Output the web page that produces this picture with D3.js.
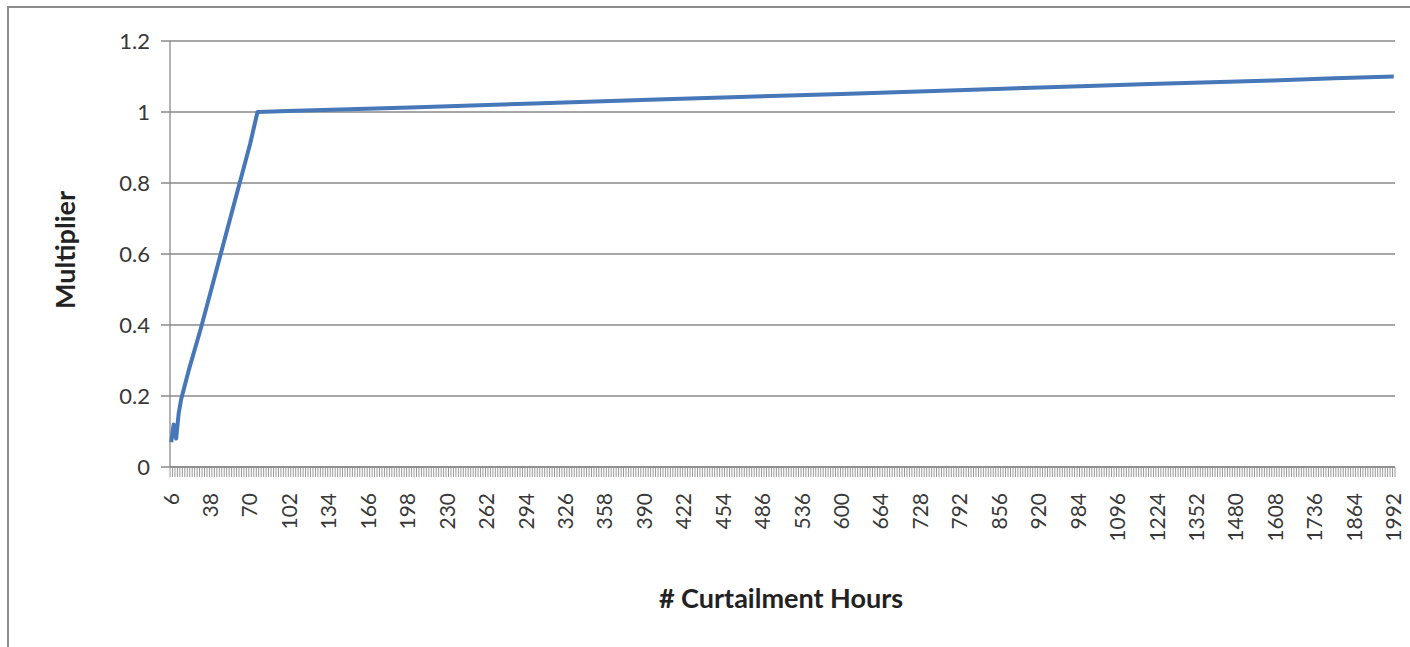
<!DOCTYPE html>
<html>
<head>
<meta charset="utf-8">
<script src="https://cdn.jsdelivr.net/npm/d3@7"></script>
<style>
  body { margin: 0; background: #fff; }
  text { font-family: Lato, "Open Sans", sans-serif; fill: #383838; }
</style>
</head>
<body>
<svg id="chart" width="1410" height="647"></svg>
<script>
// category axis: hours, in three runs with different spacing
const segStart = [6, 504, 1008];
const segEnd = [500, 1000, 1992];
const segStep = [2, 4, 8];

// multiplier at a few hours
const pointHours = [6, 8, 10, 12, 14, 20, 30, 40, 50, 60, 70, 76, 100, 200, 300, 400, 500, 600, 800, 1000, 1200, 1400, 1600, 1800, 1992];
const multiplier = [0.07, 0.12, 0.08, 0.15, 0.19, 0.27, 0.39, 0.52, 0.65, 0.78, 0.91, 1.0, 1.003, 1.013, 1.024, 1.035, 1.046, 1.051, 1.062, 1.073, 1.079, 1.084, 1.089, 1.095, 1.1];

const yTicks = [0, 0.2, 0.4, 0.6, 0.8, 1, 1.2];
const labelEvery = 16;

const categories = [];
segStart.forEach((s, k) => {
    for (let h = s; h <= segEnd[k]; h += segStep[k]) categories.push(h);
});

const svg = d3.select("#chart");
const plot = { left: 170, right: 1395, top: 41, bottom: 467 };

// outer chart border (right and bottom edges fall outside the picture)
svg.append("rect")
    .attr("x", 8).attr("y", 7)
    .attr("width", 1420).attr("height", 660)
    .attr("fill", "#fff")
    .attr("stroke", "#8c8c8c")
    .attr("stroke-width", 2);

const x = d3.scaleBand()
    .domain(categories)
    .range([plot.left, plot.right])
    .paddingInner(0).paddingOuter(0);
const xc = h => x(h) + x.bandwidth() / 2;

const y = d3.scaleLinear()
    .domain([0, 1.2])
    .range([plot.bottom, plot.top]);

// gridlines + y labels
const yg = svg.append("g").attr("class", "y-axis");
yg.selectAll("line.grid")
    .data(yTicks).enter()
    .append("line")
    .attr("class", "grid")
    .attr("x1", plot.left - 9).attr("x2", plot.right)
    .attr("y1", d => y(d)).attr("y2", d => y(d))
    .attr("stroke", "#8a8a8a")
    .attr("stroke-width", 1.3);

yg.selectAll("text")
    .data(yTicks).enter()
    .append("text")
    .attr("x", plot.left - 20)
    .attr("y", d => y(d))
    .attr("dy", "0.35em")
    .attr("text-anchor", "end")
    .style("font-size", "22px")
    .text(d => d3.format("~g")(d));

yg.append("line")
    .attr("x1", plot.left).attr("x2", plot.left)
    .attr("y1", plot.top).attr("y2", plot.bottom)
    .attr("stroke", "#8a8a8a")
    .attr("stroke-width", 1.3);

// category ticks, one per band edge
const xg = svg.append("g").attr("class", "x-axis");
const edges = categories.map(c => x(c)).concat([plot.right]);
xg.selectAll("line.tick")
    .data(edges).enter()
    .append("line")
    .attr("class", "tick")
    .attr("x1", d => d).attr("x2", d => d)
    .attr("y1", plot.bottom).attr("y2", plot.bottom + 10)
    .attr("stroke", "#9a9a9a")
    .attr("stroke-width", 1);

xg.append("line")
    .attr("x1", plot.left).attr("x2", plot.right)
    .attr("y1", plot.bottom).attr("y2", plot.bottom)
    .attr("stroke", "#8a8a8a")
    .attr("stroke-width", 1.3);

xg.selectAll("text")
    .data(categories.filter((c, i) => i % labelEvery === 0)).enter()
    .append("text")
    .attr("transform", d => `translate(${xc(d)},${plot.bottom + 26}) rotate(-90)`)
    .attr("dy", "0.35em")
    .attr("text-anchor", "end")
    .style("font-size", "21px")
    .text(d => d);

// series
const line = d3.line()
    .x(d => xc(d))
    .y((d, i) => y(multiplier[i]));

svg.append("path")
    .datum(pointHours)
    .attr("d", line)
    .attr("fill", "none")
    .attr("stroke", "#4677b8")
    .attr("stroke-width", 4)
    .attr("stroke-linejoin", "round");

// axis titles
svg.append("text")
    .attr("x", 781).attr("y", 599)
    .attr("dy", "0.35em")
    .attr("text-anchor", "middle")
    .style("font-size", "27px")
    .style("font-weight", "bold")
    .style("fill", "#222")
    .text("# Curtailment Hours");

svg.append("text")
    .attr("transform", "translate(66,250) rotate(-90)")
    .attr("dy", "0.35em")
    .attr("text-anchor", "middle")
    .style("font-size", "27px")
    .style("font-weight", "bold")
    .style("fill", "#222")
    .text("Multiplier");
</script>
</body>
</html>
